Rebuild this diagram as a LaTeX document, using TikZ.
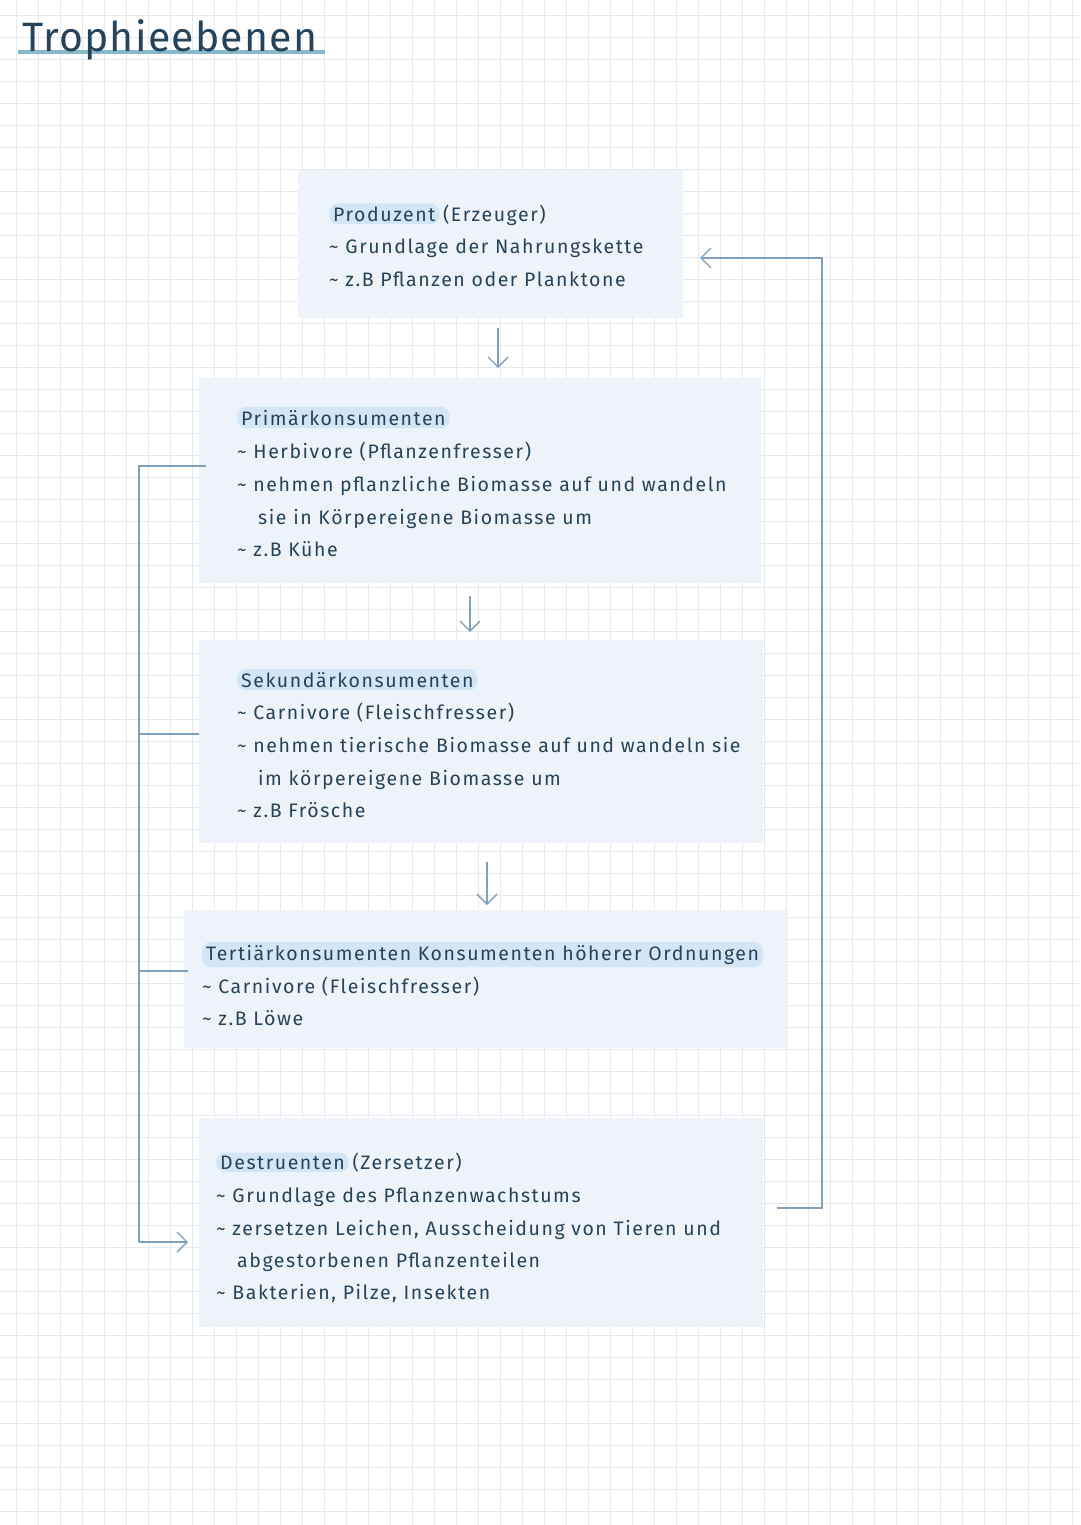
\documentclass[tikz,border=0pt]{standalone}
\usepackage{fontspec}
\setmainfont{Fira Sans}
\usetikzlibrary{arrows.meta}
\definecolor{ink}{HTML}{26435A}
\definecolor{boxf}{HTML}{EEF3F9}
\definecolor{hl}{HTML}{D3E6F6}
\definecolor{lin}{HTML}{7F9FBB}
\definecolor{grd}{HTML}{E6E8ED}
\definecolor{ul}{HTML}{86BACB}
\tikzset{
 px/.style={x=1pt,y=-1pt},
 boxx/.style={fill=boxf},
 txt/.style={anchor=base west,inner sep=0pt,font=\fontsize{19.5}{19.5}\selectfont\addfontfeature{LetterSpace=8},text=ink},
 hd/.style={txt,fill=hl,inner xsep=4pt,inner ysep=3pt,rounded corners=9pt},
 conn/.style={draw=lin,line width=1.4pt},
 arr/.style={conn,-{Straight Barb[length=10pt,width=20pt]}}
}
\newcommand{\tl}{\textasciitilde\ }
\begin{document}
\begin{tikzpicture}[px]
\useasboundingbox (0,0) rectangle (1080,1525);
\fill[white] (0,0) rectangle (1080,1525);
\foreach \i in {0,...,49} {\draw[grd,line width=0.8pt] (16+22*\i,0) -- (16+22*\i,1525);}
\foreach \i in {0,...,69} {\draw[grd,line width=0.8pt] (0,15+22*\i) -- (1080,15+22*\i);}
% title
\draw[ul,line width=4pt] (18,52) -- (325,52);
\node[anchor=base west,inner sep=0pt,font=\fontsize{41}{41}\selectfont\addfontfeature{LetterSpace=3},text=ink] (title) at (22,52) {Trophieebenen};
% boxes
\fill[boxx] (298,170) rectangle (683,318);
\fill[boxx] (199,378) rectangle (761,583);
\fill[boxx] (199,640) rectangle (763,843);
\fill[boxx] (184,910) rectangle (788,1048);
\fill[boxx] (199,1118) rectangle (763,1327);
% box1
\node[hd] (p1) at (329,221) {Produzent};
\node[txt] (p1b) at (p1.base east) {\,(Erzeuger)};
\node[txt] at (329,253) {\tl Grundlage der Nahrungskette};
\node[txt] at (329,286) {\tl z.B Pflanzen oder Planktone};
% box2
\node[hd] (p2) at (237,425) {Primärkonsumenten};
\node[txt] at (237,458) {\tl Herbivore (Pflanzenfresser)};
\node[txt] at (237,491) {\tl nehmen pflanzliche Biomasse auf und wandeln};
\node[txt] at (258,524) {sie in Körpereigene Biomasse um};
\node[txt] at (237,556) {\tl z.B Kühe};
% box3
\node[hd] (p3) at (237,687) {Sekundärkonsumenten};
\node[txt] at (237,719) {\tl Carnivore (Fleischfresser)};
\node[txt] at (237,752) {\tl nehmen tierische Biomasse auf und wandeln sie};
\node[txt] at (258,785) {im körpereigene Biomasse um};
\node[txt] at (237,817) {\tl z.B Frösche};
% box4
\node[hd] (p4) at (202,960) {Tertiärkonsumenten Konsumenten höherer Ordnungen};
\node[txt] at (202,993) {\tl Carnivore (Fleischfresser)};
\node[txt] at (202,1025) {\tl z.B Löwe};
% box5
\node[hd] (p5) at (216,1169) {Destruenten};
\node[txt] at (p5.base east) {\,(Zersetzer)};
\node[txt] at (216,1202) {\tl Grundlage des Pflanzenwachstums};
\node[txt] at (216,1235) {\tl zersetzen Leichen, Ausscheidung von Tieren und};
\node[txt] at (237,1267) {abgestorbenen Pflanzenteilen};
\node[txt] at (216,1299) {\tl Bakterien, Pilze, Insekten};
% down arrows
\coordinate (a1) at (498,328); \coordinate (a2) at (498,368);
\coordinate (b1) at (470,596); \coordinate (b2) at (470,632);
\coordinate (c1) at (487,862); \coordinate (c2) at (487,905);
\draw[arr] (a1) -- (a2);
\draw[arr] (b1) -- (b2);
\draw[arr] (c1) -- (c2);
% feedback loop
\coordinate (r0) at (777,1208); \coordinate (r1) at (822,1208);
\coordinate (r2) at (822,258); \coordinate (r3) at (700,258);
\draw[arr] (r0) -- (r1) -- (r2) -- (r3);
% left bracket
\coordinate (l1) at (206,466); \coordinate (l2) at (199,734); \coordinate (l3) at (188,971);
\coordinate (lt) at (139,466); \coordinate (lb) at (139,1242); \coordinate (le) at (188,1242);
\draw[conn] (l1) -- (lt) -- (lb);
\draw[conn] (l2) -- (139,734);
\draw[conn] (l3) -- (139,971);
\draw[arr] (lb) -- (le);
\end{tikzpicture}
\end{document}
